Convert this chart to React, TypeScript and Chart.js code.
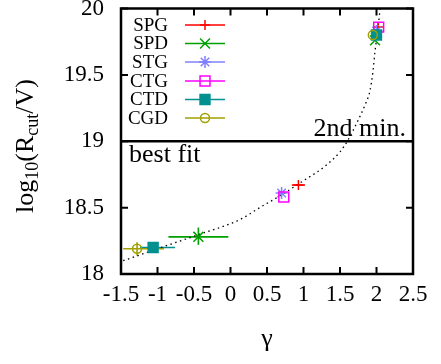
import React, { useEffect, useRef } from "react";
import { Chart, registerables } from "chart.js";
Chart.register(...registerables);

const seriesNames = ["SPG", "SPD", "STG", "CTG", "CTD", "CGD"];
const seriesColors = ["#ff0000", "#00a000", "#8080ff", "#ff00ff", "#009090", "#a0a000"];
const seriesMarkers = ["cross", "crossRot", "star", "rect", "rect", "circle"];
const seriesFilled = [false, false, false, false, true, false];
const seriesRadius = [5, 7, 6, 7, 7, 4.5];

// best-fit points (gamma, log10(Rcut/V)) with error ranges
const bestGamma = [0.93, -0.44, 0.7, 0.73, -1.06, -1.28];
const bestLogR = [18.67, 18.28, 18.61, 18.58, 18.2, 18.19];
const bestGammaLo = [0.84, -0.85, 0.7, 0.73, -1.24, -1.47];
const bestGammaHi = [1.02, -0.03, 0.7, 0.73, -0.76, -0.91];
const bestLogRLo = [18.67, 18.22, 18.61, 18.58, 18.2, 18.14];
const bestLogRHi = [18.67, 18.35, 18.61, 18.58, 18.2, 18.24];

// second-minimum points
const secondGamma = [2.02, 1.98, 2.0, 2.03, 2.0, 1.95];
const secondLogR = [19.86, 19.76, 19.83, 19.86, 19.8, 19.8];

// dotted fit curve
const fitGamma = [-1.47, -1.0, -0.42, 0.13, 0.4, 0.68, 1.02, 1.29, 1.5, 1.61, 1.75, 1.84, 1.91, 1.95, 1.98, 2.02, 2.05];
const fitLogR = [18.1, 18.19, 18.3, 18.41, 18.5, 18.59, 18.71, 18.81, 18.92, 19.01, 19.16, 19.27, 19.38, 19.52, 19.68, 19.85, 20.0];

const xMin = -1.5, xMax = 2.5, xStep = 0.5;
const yMin = 18, yMax = 20, yStep = 0.5;
const separatorLogR = 19;
const upperLabel = "2nd min.";
const lowerLabel = "best fit";

const SERIF = "'Liberation Serif', 'DejaVu Serif', serif";

function drawMarker(ctx: CanvasRenderingContext2D, style: string, r: number, x: number, y: number, color: string, filled: boolean) {
  ctx.save();
  ctx.strokeStyle = color;
  ctx.fillStyle = color;
  ctx.lineWidth = 1.5;
  ctx.beginPath();
  if (style === "cross" || style === "star") {
    ctx.moveTo(x - r, y); ctx.lineTo(x + r, y);
    ctx.moveTo(x, y - r); ctx.lineTo(x, y + r);
  }
  if (style === "crossRot" || style === "star") {
    const d = r * Math.SQRT1_2;
    ctx.moveTo(x - d, y - d); ctx.lineTo(x + d, y + d);
    ctx.moveTo(x - d, y + d); ctx.lineTo(x + d, y - d);
  }
  if (style === "rect") {
    const s = r * Math.SQRT1_2;
    ctx.rect(x - s, y - s, 2 * s, 2 * s);
    if (filled) ctx.fill();
  }
  if (style === "circle") {
    ctx.arc(x, y, r, 0, Math.PI * 2);
    if (filled) ctx.fill();
  }
  ctx.stroke();
  ctx.restore();
}

const decorPlugin = {
  id: "decor",
  beforeDatasetsDraw(chart: any) {
    const ctx = chart.ctx;
    const xs = chart.scales.x, ys = chart.scales.y;
    ctx.save();
    ctx.lineWidth = 1.6;
    for (let i = 0; i < seriesNames.length; i++) {
      ctx.strokeStyle = seriesColors[i];
      const y = ys.getPixelForValue(bestLogR[i]);
      const x = xs.getPixelForValue(bestGamma[i]);
      if (bestGammaHi[i] > bestGammaLo[i]) {
        ctx.beginPath();
        ctx.moveTo(xs.getPixelForValue(bestGammaLo[i]), y);
        ctx.lineTo(xs.getPixelForValue(bestGammaHi[i]), y);
        ctx.stroke();
      }
      if (bestLogRHi[i] > bestLogRLo[i]) {
        ctx.beginPath();
        ctx.moveTo(x, ys.getPixelForValue(bestLogRLo[i]));
        ctx.lineTo(x, ys.getPixelForValue(bestLogRHi[i]));
        ctx.stroke();
      }
    }
    ctx.restore();
  },
  afterDraw(chart: any) {
    const ctx = chart.ctx;
    const a = chart.chartArea;
    const xs = chart.scales.x, ys = chart.scales.y;
    ctx.save();
    // separator line
    const sy = ys.getPixelForValue(separatorLogR);
    ctx.strokeStyle = "#000";
    ctx.lineWidth = 2.5;
    ctx.beginPath();
    ctx.moveTo(a.left, sy);
    ctx.lineTo(a.right, sy);
    ctx.stroke();
    // ticks
    ctx.lineWidth = 2;
    const tl = 7;
    xs.ticks.forEach((t: any) => {
      const px = xs.getPixelForValue(t.value);
      ctx.beginPath();
      ctx.moveTo(px, a.bottom);
      ctx.lineTo(px, a.bottom - tl);
      ctx.moveTo(px, a.top);
      ctx.lineTo(px, a.top + tl);
      ctx.stroke();
    });
    ys.ticks.forEach((t: any) => {
      const py = ys.getPixelForValue(t.value);
      ctx.beginPath();
      ctx.moveTo(a.left, py);
      ctx.lineTo(a.left + tl, py);
      ctx.moveTo(a.right, py);
      ctx.lineTo(a.right - tl, py);
      ctx.stroke();
    });
    // frame
    ctx.lineWidth = 2.5;
    ctx.strokeRect(a.left, a.top, a.right - a.left, a.bottom - a.top);
    // annotations
    ctx.fillStyle = "#000";
    ctx.font = `26px ${SERIF}`;
    ctx.textBaseline = "alphabetic";
    ctx.textAlign = "right";
    ctx.fillText(upperLabel, a.right - 7, sy - 5);
    ctx.textAlign = "left";
    ctx.fillText(lowerLabel, a.left + 8, sy + 21);
    // legend
    const rows = [25, 43.5, 62, 81, 99.5, 118];
    ctx.font = `19px ${SERIF}`;
    ctx.textBaseline = "middle";
    for (let i = 0; i < seriesNames.length; i++) {
      const ry = rows[i];
      ctx.fillStyle = "#000";
      ctx.textAlign = "right";
      ctx.fillText(seriesNames[i], 168, ry + 1);
      ctx.strokeStyle = seriesColors[i];
      ctx.lineWidth = 1.5;
      ctx.beginPath();
      ctx.moveTo(185, ry);
      ctx.lineTo(225, ry);
      ctx.stroke();
      drawMarker(ctx, seriesMarkers[i], seriesRadius[i], 205, ry, seriesColors[i], seriesFilled[i]);
    }
    // y title with subscripts
    ctx.save();
    ctx.translate(33, 146);
    ctx.rotate(-Math.PI / 2);
    ctx.fillStyle = "#000";
    ctx.textAlign = "left";
    ctx.textBaseline = "alphabetic";
    const parts: [string, boolean][] = [["log", false], ["10", true], ["(R", false], ["cut", true], ["/V)", false]];
    const mainFont = `26px ${SERIF}`, subFont = `18px ${SERIF}`;
    let total = 0;
    parts.forEach(([s, sub]) => {
      ctx.font = sub ? subFont : mainFont;
      total += ctx.measureText(s).width;
    });
    let cx = -total / 2;
    parts.forEach(([s, sub]) => {
      ctx.font = sub ? subFont : mainFont;
      ctx.fillText(s, cx, sub ? 5 : 0);
      cx += ctx.measureText(s).width;
    });
    ctx.restore();
    // x title
    ctx.font = `26px ${SERIF}`;
    ctx.textAlign = "center";
    ctx.textBaseline = "middle";
    ctx.fillStyle = "#000";
    ctx.fillText("γ", (a.left + a.right) / 2, 339);
    ctx.restore();
  },
};

export default function App() {
  const ref = useRef<HTMLCanvasElement | null>(null);
  useEffect(() => {
    document.body.style.margin = "0";
    const canvas = ref.current!;
    const datasets: any[] = seriesNames.map((name, i) => ({
      type: "scatter",
      label: name,
      data: [
        { x: bestGamma[i], y: bestLogR[i] },
        { x: secondGamma[i], y: secondLogR[i] },
      ],
      pointStyle: seriesMarkers[i],
      pointRadius: seriesRadius[i],
      pointBorderWidth: 1.5,
      borderColor: seriesColors[i],
      backgroundColor: seriesFilled[i] ? seriesColors[i] : "rgba(0,0,0,0)",
      pointBackgroundColor: seriesFilled[i] ? seriesColors[i] : "rgba(0,0,0,0)",
      order: 10 - i,
    }));
    datasets.push({
      type: "line",
      label: "fit",
      data: fitGamma.map((g, i) => ({ x: g, y: fitLogR[i] })),
      borderColor: "#000",
      borderWidth: 1.3,
      borderDash: [1.5, 3.5],
      pointRadius: 0,
      fill: false,
      cubicInterpolationMode: "monotone",
      order: 20,
    });
    const fmt = (v: any) => String(Number(v));
    const chart = new Chart(canvas, {
      type: "scatter",
      data: { datasets },
      plugins: [decorPlugin],
      options: {
        animation: false,
        responsive: false,
        devicePixelRatio: 1,
        layout: { padding: { top: 8, right: 28, left: 0, bottom: 0 } },
        plugins: { legend: { display: false }, tooltip: { enabled: false } },
        scales: {
          x: {
            type: "linear",
            min: xMin,
            max: xMax,
            grid: { display: false, drawTicks: false },
            border: { display: false },
            ticks: {
              stepSize: xStep,
              autoSkip: false,
              maxRotation: 0,
              padding: 7,
              color: "#000",
              font: { family: SERIF, size: 23 },
              callback: fmt,
            },
            afterFit: (s: any) => {
              s.height = 90;
              s.paddingLeft = 0;
              s.paddingRight = 0;
            },
          },
          y: {
            type: "linear",
            min: yMin,
            max: yMax,
            grid: { display: false, drawTicks: false },
            border: { display: false },
            ticks: {
              stepSize: yStep,
              autoSkip: false,
              padding: 17,
              color: "#000",
              font: { family: SERIF, size: 23 },
              callback: fmt,
            },
            afterFit: (s: any) => {
              s.width = 121;
              s.paddingTop = 0;
              s.paddingBottom = 0;
            },
          },
        },
      } as any,
    });
    return () => chart.destroy();
  }, []);
  return (
    <div style={{ width: 441, height: 364 }}>
      <canvas ref={ref} width={441} height={364} />
    </div>
  );
}
